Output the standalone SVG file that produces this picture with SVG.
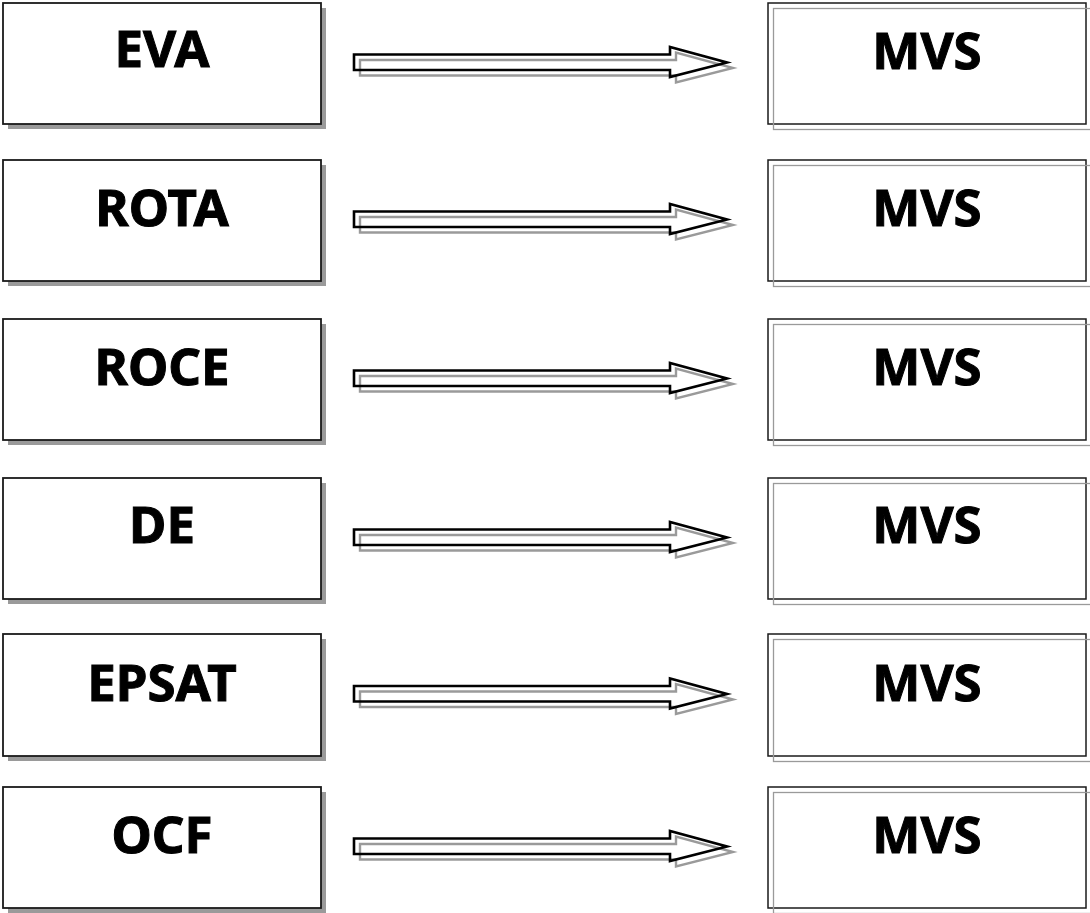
<svg xmlns="http://www.w3.org/2000/svg" width="1090" height="913" viewBox="0 0 1090 913">
<style>
.shadow{fill:#9a9a9a}
.box{fill:#fff;stroke:#1a1a1a;stroke-width:1.8}
.mbox{fill:#fff;stroke:#1a1a1a;stroke-width:1.5}
.mgray{fill:none;stroke:#9a9a9a;stroke-width:1.3}
.lbl{font-family:"Noto Sans","Open Sans",sans-serif;font-weight:bold;font-size:51px;fill:#000;stroke:#000;stroke-width:1;text-anchor:middle}
.arr{fill:none;stroke:#000;stroke-width:2.6;stroke-linejoin:miter}
.arrs{fill:none;stroke:#9a9a9a;stroke-width:2.4}
</style>
<defs>
<path id="arrow" d="M354,-8 L670,-8 L670,-15.5 L727,0 L670,14.5 L670,7.5 L354,7.5 Z"/>
</defs>
<g id="connectors">
<g transform="translate(0,62.5)"><use href="#arrow" class="arrs" transform="translate(6,5.5)"/><use href="#arrow" class="arr"/></g>
<g transform="translate(0,219.5)"><use href="#arrow" class="arrs" transform="translate(6,5.5)"/><use href="#arrow" class="arr"/></g>
<g transform="translate(0,378.5)"><use href="#arrow" class="arrs" transform="translate(6,5.5)"/><use href="#arrow" class="arr"/></g>
<g transform="translate(0,537.5)"><use href="#arrow" class="arrs" transform="translate(6,5.5)"/><use href="#arrow" class="arr"/></g>
<g transform="translate(0,694)"><use href="#arrow" class="arrs" transform="translate(6,5.5)"/><use href="#arrow" class="arr"/></g>
<g transform="translate(0,846.5)"><use href="#arrow" class="arrs" transform="translate(6,5.5)"/><use href="#arrow" class="arr"/></g>
</g>
<g id="n-eva"><rect class="shadow" x="8" y="8" width="318" height="121"/><rect class="box" x="3" y="3" width="318" height="121"/><text class="lbl" x="162" y="67">EVA</text></g>
<g id="n-rota"><rect class="shadow" x="8" y="165" width="318" height="121"/><rect class="box" x="3" y="160" width="318" height="121"/><text class="lbl" x="162" y="226">ROTA</text></g>
<g id="n-roce"><rect class="shadow" x="8" y="324" width="318" height="121"/><rect class="box" x="3" y="319" width="318" height="121"/><text class="lbl" x="162" y="385">ROCE</text></g>
<g id="n-de"><rect class="shadow" x="8" y="483" width="318" height="121"/><rect class="box" x="3" y="478" width="318" height="121"/><text class="lbl" x="162" y="543">DE</text></g>
<g id="n-epsat"><rect class="shadow" x="8" y="639" width="318" height="122"/><rect class="box" x="3" y="634" width="318" height="122"/><text class="lbl" x="162" y="701">EPSAT</text></g>
<g id="n-ocf"><rect class="shadow" x="8" y="792" width="318" height="121"/><rect class="box" x="3" y="787" width="318" height="121"/><text class="lbl" x="162" y="853">OCF</text></g>
<g id="m1"><rect class="mbox" x="768" y="3" width="318" height="121"/><rect class="mgray" x="773.5" y="8.5" width="320" height="121"/><text class="lbl" x="927" y="69">MVS</text></g>
<g id="m2"><rect class="mbox" x="768" y="160" width="318" height="121"/><rect class="mgray" x="773.5" y="165.5" width="320" height="121"/><text class="lbl" x="927" y="226">MVS</text></g>
<g id="m3"><rect class="mbox" x="768" y="319" width="318" height="121"/><rect class="mgray" x="773.5" y="324.5" width="320" height="121"/><text class="lbl" x="927" y="385">MVS</text></g>
<g id="m4"><rect class="mbox" x="768" y="478" width="318" height="121"/><rect class="mgray" x="773.5" y="483.5" width="320" height="121"/><text class="lbl" x="927" y="543">MVS</text></g>
<g id="m5"><rect class="mbox" x="768" y="634" width="318" height="122"/><rect class="mgray" x="773.5" y="639.5" width="320" height="122"/><text class="lbl" x="927" y="701">MVS</text></g>
<g id="m6"><rect class="mbox" x="768" y="787" width="318" height="121"/><rect class="mgray" x="773.5" y="792.5" width="320" height="121"/><text class="lbl" x="927" y="853">MVS</text></g>
</svg>
